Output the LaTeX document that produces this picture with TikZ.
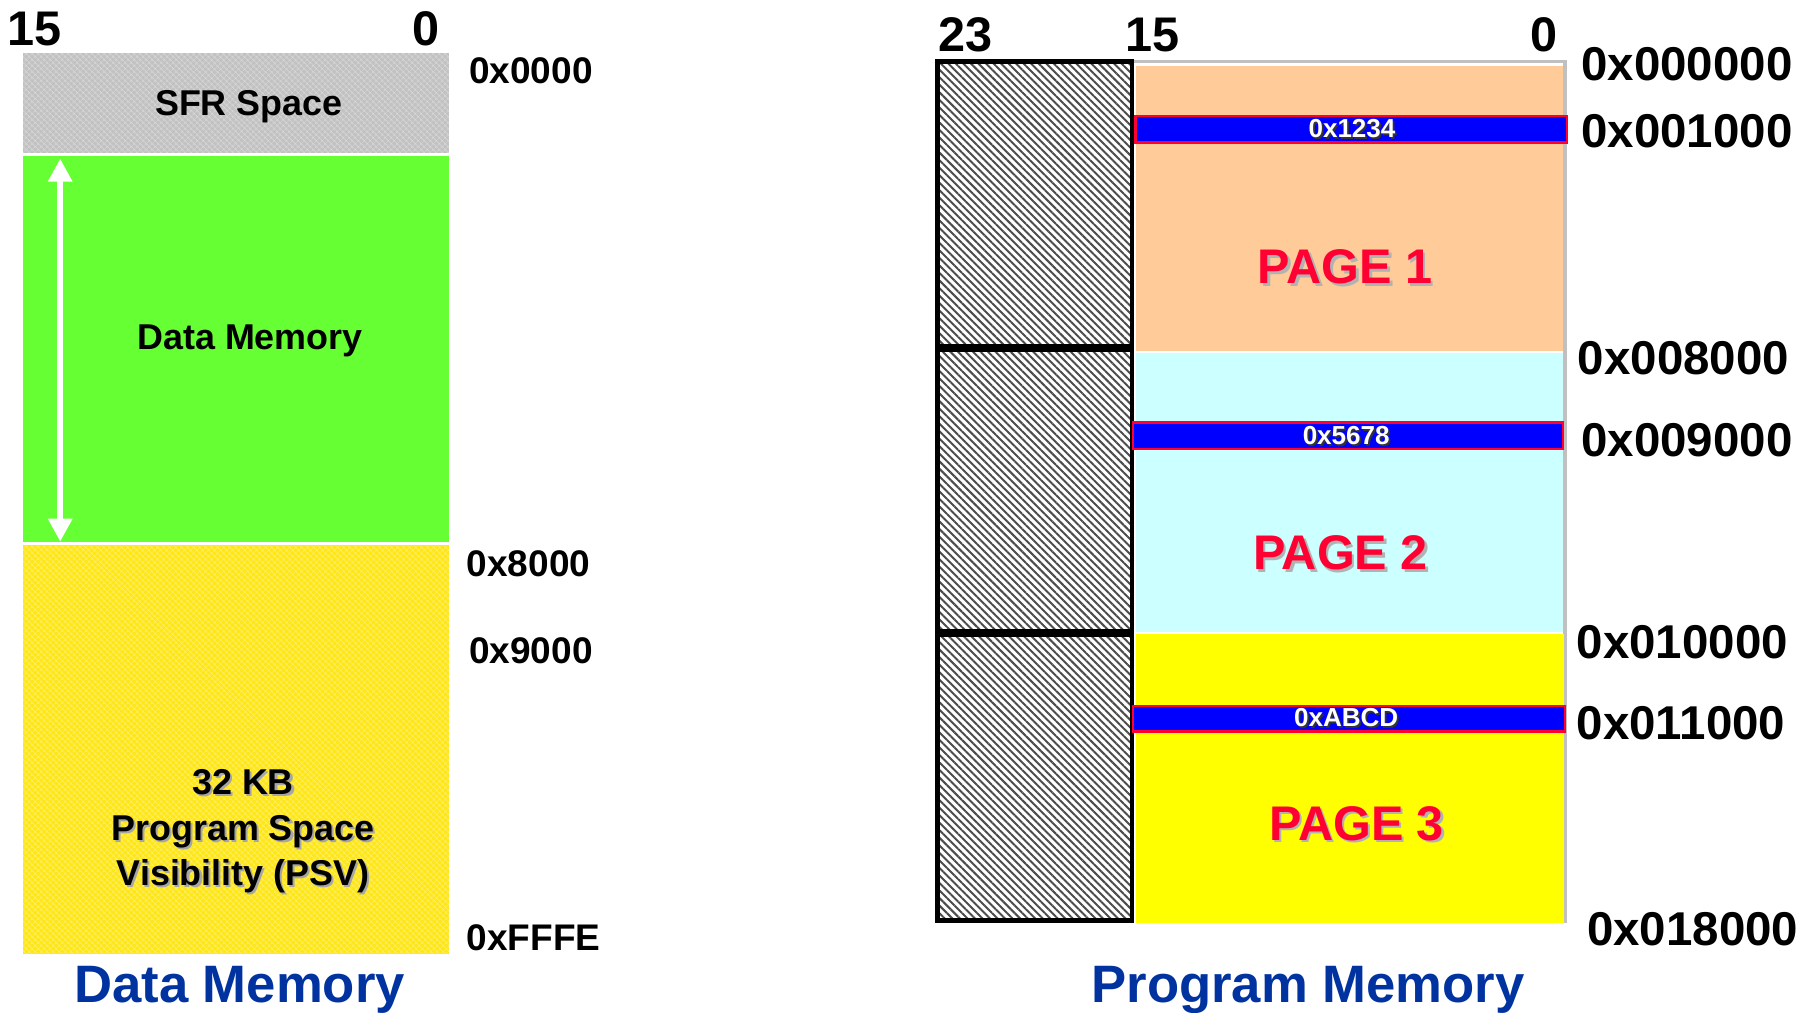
\documentclass[tikz,border=0pt]{standalone}
\usepackage{fontspec}
\setmainfont{Liberation Sans}
\usetikzlibrary{patterns.meta,arrows.meta}

\definecolor{sfrgray}{HTML}{C2C2C2}
\definecolor{dmgreen}{HTML}{66FF33}
\definecolor{psvyellow}{HTML}{FFE714}
\definecolor{pgorange}{HTML}{FFCC99}
\definecolor{pgcyan}{HTML}{CCFFFF}
\definecolor{pgyellow}{HTML}{FFFF00}
\definecolor{pgred}{HTML}{FF0033}
\definecolor{barblue}{HTML}{0000FF}
\definecolor{titleblue}{HTML}{0033A0}
\definecolor{framegray}{HTML}{C0C0C0}

% bold text at a given size / line spacing
\newcommand\fsz[2]{\fontsize{#1}{#2}\selectfont\bfseries}
% text with a drop shadow: [offset]{text colour}{shadow colour}{text}
\newcommand\shadowed[4][2pt]{\leavevmode\rlap{\kern#1\raisebox{-#1}{\color{#3}#4}}{\color{#2}#4}}

\tikzset{
  txt/.style={inner sep=0pt, font=\fsz{31}{39}},
  addr/.style={inner sep=0pt, anchor=west, font=\fsz{32}{38}},
  paddr/.style={inner sep=0pt, anchor=west, font=\fsz{41}{48}},
  bitno/.style={inner sep=0pt, font=\fsz{42}{48}},
  title/.style={inner sep=0pt, anchor=base, font=\fsz{45.5}{52}, text=titleblue},
  pagetxt/.style={inner sep=0pt, anchor=base, font=\fsz{42}{48}},
  bartxt/.style={inner sep=0pt, font=\fsz{22.5}{26}},
  texture/.style={pattern={Hatch[angle=45,distance=4pt,line width=0.6pt]}, pattern color=white, fill opacity=0.35},
  hatchbox/.style={draw=black, line width=4pt, preaction={fill=white},
    pattern={Lines[angle=-45,distance=4.6pt,line width=1.7pt]}, pattern color=black!70},
  barbox/.style={fill=barblue, draw=pgred, line width=2pt},
}

\begin{document}
\begin{tikzpicture}[x=1pt,y=-1pt]
\useasboundingbox (0,0) rectangle (1568,875);

% ---------------- data memory ----------------
\fill[sfrgray] (20,46) rectangle (388,132);
\fill[texture] (20,46) rectangle (388,132);
\fill[dmgreen] (20,135) rectangle (388,468);
\fill[psvyellow] (20,471) rectangle (388,824);
\fill[texture] (20,471) rectangle (388,824);

\node[bitno] (dbit15) at (30,25) {15};
\node[bitno] (dbit0) at (368,25) {0};

\node[txt, anchor=base] (sfr) at (215,99.5) {SFR Space};
\node[txt, anchor=base] (dmem) at (216,302) {Data Memory};
\node[txt, align=center] (psv) at (210,719)
  {\shadowed[1.8pt]{black}{black!35}{32 KB}\\
   \shadowed[1.8pt]{black}{black!35}{Program Space}\\
   \shadowed[1.8pt]{black}{black!35}{Visibility (PSV)}};

\coordinate (dmtop) at (52,137);
\coordinate (dmbot) at (52,468);
\draw[white, line width=5pt,
  {Triangle[width=20pt,length=20pt]}-{Triangle[width=20pt,length=20pt]}]
  (dmtop) -- (dmbot);

\node[addr] (a0000) at (405,61) {0x0000};
\node[addr] (a8000) at (403,487) {0x8000};
\node[addr] (a9000) at (405,562) {0x9000};
\node[addr] (afffe) at (403,810) {0xFFFE};

\node[title] (dtitle) at (207,866) {Data Memory};

% ---------------- program memory ----------------
\draw[framegray, line width=3pt] (978,53) -- (1352,53) -- (1352,797);
\fill[pgorange] (981,57) rectangle (1350,303);
\fill[pgcyan] (981,305) rectangle (1350,546);
\fill[pgyellow] (981,548) rectangle (1351,797);

\draw[hatchbox] (810,53) rectangle (978,299.5);
\draw[hatchbox] (810,302) rectangle (978,545.5);
\draw[hatchbox] (810,548) rectangle (978,795);

\node[bitno] (pbit23) at (834,30) {23};
\node[bitno] (pbit15) at (996,30) {15};
\node[bitno] (pbit0) at (1334,30) {0};

\draw[barbox] (981,100) rectangle (1354,123);
\draw[barbox] (979,365) rectangle (1350,388);
\draw[barbox] (979,610) rectangle (1352,632);
\node[bartxt] (w1234) at (1168,112) {\shadowed[1.5pt]{white}{black!80}{0x1234}};
\node[bartxt] (w5678) at (1163,377) {\shadowed[1.5pt]{white}{black!80}{0x5678}};
\node[bartxt] (wabcd) at (1163,621) {\shadowed[1.5pt]{white}{black!80}{0xABCD}};

\node[pagetxt] (page1) at (1162,245) {\shadowed[2.2pt]{pgred}{black!30}{PAGE 1}};
\node[pagetxt] (page2) at (1158,492) {\shadowed[2.2pt]{pgred}{black!30}{PAGE 2}};
\node[pagetxt] (page3) at (1172,726) {\shadowed[2.2pt]{pgred}{black!30}{PAGE 3}};

\node[paddr] (p000000) at (1366,55) {0x000000};
\node[paddr] (p001000) at (1366,113) {0x001000};
\node[paddr] (p008000) at (1363,309) {0x008000};
\node[paddr] (p009000) at (1366,380) {0x009000};
\node[paddr] (p010000) at (1362,555) {0x010000};
\node[paddr] (p011000) at (1362,625) {0x011000};
\node[paddr] (p018000) at (1371,803) {0x018000};

\node[title] (ptitle) at (1130,866) {Program Memory};
\end{tikzpicture}
\end{document}
